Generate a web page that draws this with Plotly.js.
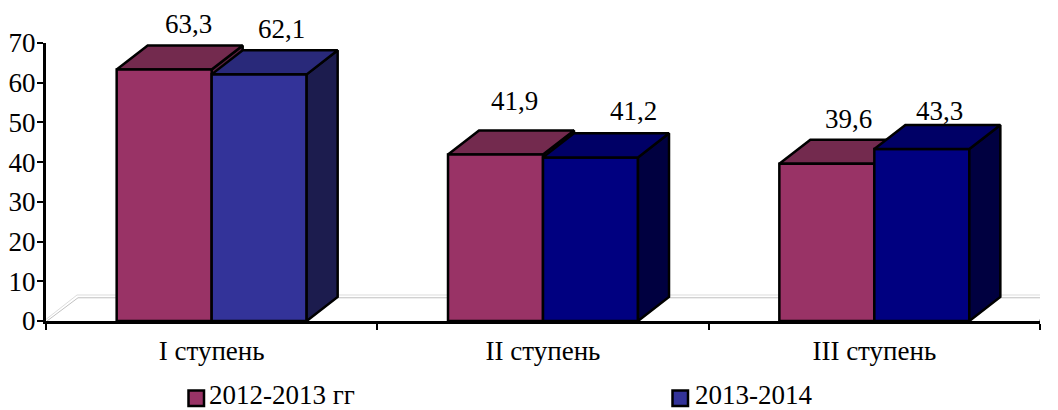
<!DOCTYPE html>
<html><head><meta charset="utf-8">
<script src="https://cdn.plot.ly/plotly-3.0.1.min.js"></script>
<style>html,body{margin:0;padding:0;background:#fff}#c{width:1058px;height:410px}</style>
</head><body><div id="c"></div>
<script>
const categories = ['I ступень', 'II ступень', 'III ступень'];
const seriesNames = ['2012-2013 гг', '2013-2014'];
const values2012 = [63.3, 41.9, 39.6];
const values2013 = [62.1, 41.2, 43.3];
const yTicks = [0, 10, 20, 30, 40, 50, 60, 70];

// styling / layout constants
const maroon = {front: '#993366', top: '#732a4e', side: '#5c2240'};
const blueFront = ['#333399', '#000080', '#000080'];
const blueTop = ['#29297a', '#000066', '#000066'];
const blueSide = ['#1c1c4e', '#000040', '#000040'];
const barW = 0.2867, depthX = 0.0936, depthY = 6.05;
const labelShift = [[24, 22], [19, 43], [22, 18]];
const labelRise = [[5, 4], [13, 5], [4, -3]];
const font = 'Liberation Serif, Times New Roman, serif';
const idx = categories.map((_, i) => i);
const pxX = p => (p - 46) / 994, pxY = p => (321 - p) / 278;

function facePolys(i, left, v, colTop, colSide, ax) {
  const r = left + barW, d = depthX, h = depthY;
  const mk = (xs, ys, c) => ({type: 'scatter', mode: 'lines', x: xs, y: ys, fill: 'toself', fillcolor: c,
    line: {color: '#000', width: 2.5}, showlegend: false, hoverinfo: 'skip', cliponaxis: false, xaxis: ax[0], yaxis: ax[1]});
  return [
    mk([r, r + d, r + d, r, r], [0, h, v + h, v, 0], colSide),
    mk([left, r, r + d, left + d, left], [v, v, v + h, v + h, v], colTop)
  ];
}
const floorLine = (xs, ys, c) => ({type: 'scatter', mode: 'lines', x: xs, y: ys,
  line: {color: c, width: 1}, showlegend: false, hoverinfo: 'skip', cliponaxis: false});

const traces = [
  floorLine([-0.5, -0.5 + depthX, 2.56 + depthX], [0.4, depthY + 0.5, depthY + 0.5], '#dddddd'),
  floorLine([-0.497, -0.497 + depthX, 2.56 + depthX], [0, depthY - 0.2, depthY - 0.2], '#c0c0c0'),
  {type: 'scatter', mode: 'lines', x: [2.5, 2.5 + depthX], y: [0, depthY], line: {color: '#000', width: 2.5},
    showlegend: false, hoverinfo: 'skip', cliponaxis: false}
];
idx.forEach(i => traces.push(...facePolys(i, i - barW, values2012[i], maroon.top, maroon.side, ['x', 'y'])));
traces.push(
  {type: 'bar', name: seriesNames[0], x: idx, y: values2012, width: barW, offset: -barW, xaxis: 'x2', yaxis: 'y2',
    marker: {color: maroon.front, line: {color: '#000', width: 2.5}}, hoverinfo: 'skip', showlegend: false},
  {type: 'bar', name: seriesNames[1], x: idx, y: values2013, width: barW, offset: 0, xaxis: 'x2', yaxis: 'y2',
    marker: {color: blueFront, line: {color: '#000', width: 2.5}}, hoverinfo: 'skip', showlegend: false}
);
idx.forEach(i => traces.push(...facePolys(i, i, values2013[i], blueTop[i], blueSide[i], ['x2', 'y2'])));

const labels = [];
idx.forEach(i => {
  [[values2012, -barW], [values2013, 0]].forEach(([vals, off], s) => {
    labels.push({xref: 'x2', yref: 'y2', x: i + off + barW / 2, y: vals[i] + depthY, xshift: labelShift[i][s],
      yshift: labelRise[i][s], yanchor: 'bottom', xanchor: 'center', showarrow: false, text: String(vals[i]).replace('.', ','),
      font: {family: font, size: 27, color: '#000'}});
  });
});
// legend keys and names
const legendKeyX = [188.5, 672.5], legendTextX = [207, 693], legendColors = [maroon.front, blueFront[0]];
const shapes = legendKeyX.map((p, s) => ({type: 'rect', xref: 'paper', yref: 'paper', x0: pxX(p), x1: pxX(p + 15.5), y0: pxY(406), y1: pxY(390.5),
  fillcolor: legendColors[s], line: {color: '#000', width: 2.5}}));
seriesNames.forEach((n, s) => labels.push({xref: 'paper', yref: 'paper', x: pxX(legendTextX[s]), y: pxY(395), xanchor: 'left', yanchor: 'middle',
  showarrow: false, text: n, font: {family: font, size: 27, color: '#000'}}));

const layout = {
  width: 1058, height: 410, margin: {l: 46, r: 18, t: 43, b: 89}, paper_bgcolor: '#fff', plot_bgcolor: 'rgba(0,0,0,0)',
  barmode: 'overlay', font: {family: font, color: '#000', size: 27},
  xaxis: {type: 'linear', range: [-0.5, 2.5], tickmode: 'array', tickvals: [-0.5, 0.5, 1.5, 2.5], ticktext: ['', '', '', ''],
    ticks: 'outside', ticklen: 6, tickwidth: 2, tickcolor: '#000', showline: true, linecolor: '#000', linewidth: 3,
    showgrid: false, zeroline: false, fixedrange: true},
  yaxis: {range: [0, 70], tickmode: 'array', tickvals: yTicks, ticks: 'outside', ticklen: 6, tickwidth: 2, tickcolor: '#000',
    showline: true, linecolor: '#000', linewidth: 3, showgrid: false, zeroline: false, fixedrange: true, ticklabelstandoff: -4,
    tickfont: {family: font, size: 27, color: '#000'}},
  xaxis2: {type: 'linear', overlaying: 'x', anchor: 'y2', range: [-0.5, 2.5], tickmode: 'array', tickvals: idx, ticktext: categories,
    ticks: '', showgrid: false, zeroline: false, showline: false, fixedrange: true, ticklabelstandoff: 11,
    tickfont: {family: font, size: 27, color: '#000'}},
  yaxis2: {overlaying: 'y', anchor: 'x2', range: [0, 70], visible: false, fixedrange: true},
  showlegend: false,
  shapes, annotations: labels
};
Plotly.newPlot('c', traces, layout, {displayModeBar: false, staticPlot: true});
</script></body></html>
